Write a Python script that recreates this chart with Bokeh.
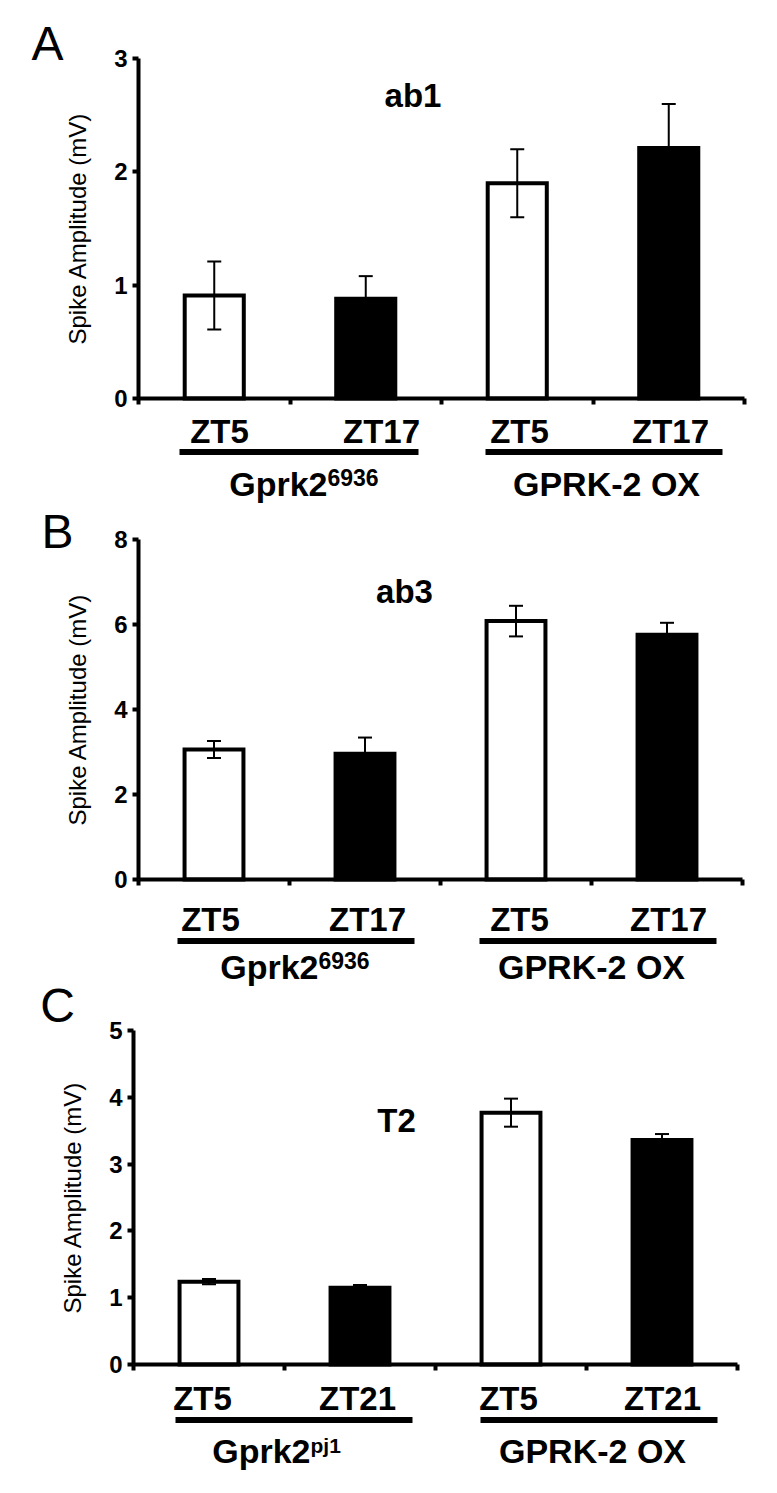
from bokeh.plotting import figure
from bokeh.models import Range1d, LinearAxis, FixedTicker, Whisker, ColumnDataSource, TeeHead
from bokeh.core.properties import value
from bokeh.embed import file_html
from bokeh.resources import INLINE

# ---------------- data ----------------
panel_letters = ["A", "B", "C"]
panel_titles = ["ab1", "ab3", "T2"]
y_label = "Spike Amplitude (mV)"

time_labels_a = ["ZT5", "ZT17", "ZT5", "ZT17"]
time_labels_b = ["ZT5", "ZT17", "ZT5", "ZT17"]
time_labels_c = ["ZT5", "ZT21", "ZT5", "ZT21"]
group_names = ["Gprk2", "GPRK-2 OX"]
allele_a = "6936"
allele_b = "6936"
allele_c = "pj1"

means_a = [0.91, 0.88, 1.90, 2.21]
sem_a = [0.30, 0.20, 0.30, 0.39]
means_b = [3.06, 2.96, 6.08, 5.76]
sem_b = [0.20, 0.38, 0.36, 0.28]
means_c = [1.24, 1.15, 3.77, 3.36]
sem_c = [0.04, 0.04, 0.21, 0.09]

y_ticks_a = [0, 1, 2, 3]
y_ticks_b = [0, 2, 4, 6, 8]
y_ticks_c = [0, 1, 2, 3, 4, 5]
x_ticks = [0, 1, 2, 3, 4]

# ---------------- layout (page pixels) ----------------
W, H = 761, 1477
MARGIN = 0
FONT = "Liberation Sans"
MID = 0.35  # text "middle" sits this many ems above the baseline
bar_fills = ["white", "black", "white", "black"]

ZT_SIZE, GRP_SIZE, TITLE_SIZE, LETTER_SIZE = 33, 34, 33, 48

layout = {
    "A": dict(x0=138, xppu=151.5, y0=398, yppu=113.3,
              zt_x=[219, 381, 519, 670], zt_base=443,
              spans=[(179, 418), (485, 722)], line_y=451.5,
              anchor=327, grp_base=495, sup_base=485, sup_size=23, ox_x=606,
              title_x=412.5, title_base=107, letter_x=47, letter_base=60),
    "B": dict(x0=138, xppu=151.0, y0=879, yppu=42.5,
              zt_x=[210, 367, 519, 668], zt_base=931,
              spans=[(177, 414), (479, 716)], line_y=940.5,
              anchor=318, grp_base=978, sup_base=968, sup_size=23, ox_x=591,
              title_x=404, title_base=603, letter_x=57, letter_base=548),
    "C": dict(x0=133, xppu=151.0, y0=1364, yppu=66.8,
              zt_x=[202, 357, 508, 662], zt_base=1410,
              spans=[(175, 412), (480, 717)], line_y=1419.5,
              anchor=310, grp_base=1462, sup_base=1452, sup_size=21, ox_x=592,
              title_x=396, title_base=1132, letter_x=57, letter_base=1022),
}

panels = [
    ("A", means_a, sem_a, y_ticks_a, time_labels_a, allele_a),
    ("B", means_b, sem_b, y_ticks_b, time_labels_b, allele_b),
    ("C", means_c, sem_c, y_ticks_c, time_labels_c, allele_c),
]


def xr(g):
    return Range1d((MARGIN - g["x0"]) / g["xppu"], (MARGIN + W - g["x0"]) / g["xppu"])


def yr(g):
    return Range1d((g["y0"] - (MARGIN + H)) / g["yppu"], (g["y0"] - MARGIN) / g["yppu"])


def dx(g, px):
    return (px - g["x0"]) / g["xppu"]


def dy(g, py):
    return (g["y0"] - py) / g["yppu"]


def dyt(g, base, size):
    # vertical centre of a text whose baseline is at page pixel `base`
    return dy(g, base - MID * size)


p = figure(width=W, height=H, x_axis_type=None, y_axis_type=None,
           toolbar_location=None, output_backend="svg", min_border=0,
           x_range=Range1d(0, W), y_range=Range1d(0, H))
p.title.visible = False
p.outline_line_color = None
p.xgrid.visible = False
p.ygrid.visible = False
p.background_fill_color = "white"

txt = dict(text_font=value(FONT), text_color="black", text_baseline="middle")

for letter, means, sems, yticks, tlabels, allele in panels:
    g = layout[letter]
    xn, yn = "x" + letter, "y" + letter
    p.extra_x_ranges[xn] = xr(g)
    p.extra_y_ranges[yn] = yr(g)
    kw = dict(x_range_name=xn, y_range_name=yn)

    cats = [i + 0.5 for i in range(len(means))]
    src = ColumnDataSource(dict(
        x=cats, top=means,
        upper=[m + s for m, s in zip(means, sems)],
        lower=[m - s for m, s in zip(means, sems)],
        fill=bar_fills,
    ))

    p.vbar(x="x", top="top", bottom=0, width=0.39, source=src,
           fill_color="fill", line_color="black", line_width=4, line_join="miter", **kw)

    wh = Whisker(source=src, base="x", upper="upper", lower="lower",
                 line_color="black", line_width=2, level="overlay",
                 upper_head=TeeHead(size=14, line_width=2, line_color="black"),
                 lower_head=TeeHead(size=14, line_width=2, line_color="black"),
                 **kw)
    p.add_layout(wh)

    # y axis
    yax = LinearAxis(fixed_location=0, bounds=(yticks[0], yticks[-1]),
                     ticker=FixedTicker(ticks=yticks), axis_label=y_label, **kw)
    yax.axis_line_width = 4
    yax.major_tick_line_width = 4
    yax.major_tick_in = 0
    yax.major_tick_out = 6
    yax.minor_tick_line_color = None
    yax.major_label_text_font = FONT
    yax.major_label_text_font_style = "bold"
    yax.major_label_text_font_size = "24px"
    yax.major_label_text_color = "black"
    yax.major_label_standoff = 5
    yax.axis_label_text_font = FONT
    yax.axis_label_text_font_style = "normal"
    yax.axis_label_text_font_size = "24px"
    yax.axis_label_text_color = "black"
    yax.axis_label_standoff = 20
    p.add_layout(yax, "left")

    # x axis (category boundaries)
    xax = LinearAxis(fixed_location=0, bounds=(x_ticks[0], x_ticks[-1]),
                     ticker=FixedTicker(ticks=x_ticks), **kw)
    xax.axis_line_width = 4
    xax.major_tick_line_width = 4
    xax.major_tick_in = 0
    xax.major_tick_out = 6
    xax.minor_tick_line_color = None
    xax.major_label_text_color = None
    p.add_layout(xax, "below")

    # time labels
    p.text(x=[dx(g, v) for v in g["zt_x"]], y=[dyt(g, g["zt_base"], ZT_SIZE)] * 4, text=tlabels,
           text_font_style="bold", text_font_size=f"{ZT_SIZE}px", text_align="center", **txt, **kw)

    # group underlines
    p.segment(x0=[dx(g, a) for a, b in g["spans"]], x1=[dx(g, b) for a, b in g["spans"]],
              y0=[dy(g, g["line_y"])] * 2, y1=[dy(g, g["line_y"])] * 2,
              line_width=6, line_color="black", line_cap="butt", **kw)

    # group labels
    p.text(x=[dx(g, g["anchor"])], y=[dyt(g, g["grp_base"], GRP_SIZE)], text=[group_names[0]],
           text_font_style="bold", text_font_size=f"{GRP_SIZE}px", text_align="right", **txt, **kw)
    p.text(x=[dx(g, g["anchor"])], y=[dyt(g, g["sup_base"], g["sup_size"])], text=[allele],
           text_font_style="bold", text_font_size=f"{g['sup_size']}px", text_align="left", **txt, **kw)
    p.text(x=[dx(g, g["ox_x"])], y=[dyt(g, g["grp_base"], GRP_SIZE)], text=[group_names[1]],
           text_font_style="bold", text_font_size=f"{GRP_SIZE}px", text_align="center", **txt, **kw)

    # panel title and letter
    idx = panel_letters.index(letter)
    p.text(x=[dx(g, g["title_x"])], y=[dyt(g, g["title_base"], TITLE_SIZE)], text=[panel_titles[idx]],
           text_font_style="bold", text_font_size=f"{TITLE_SIZE}px", text_align="center", **txt, **kw)
    p.text(x=[dx(g, g["letter_x"])], y=[dyt(g, g["letter_base"], LETTER_SIZE)], text=[letter],
           text_font_style="normal", text_font_size=f"{LETTER_SIZE}px", text_align="center", **txt, **kw)

open("out.html", "w").write(file_html(p, INLINE))
